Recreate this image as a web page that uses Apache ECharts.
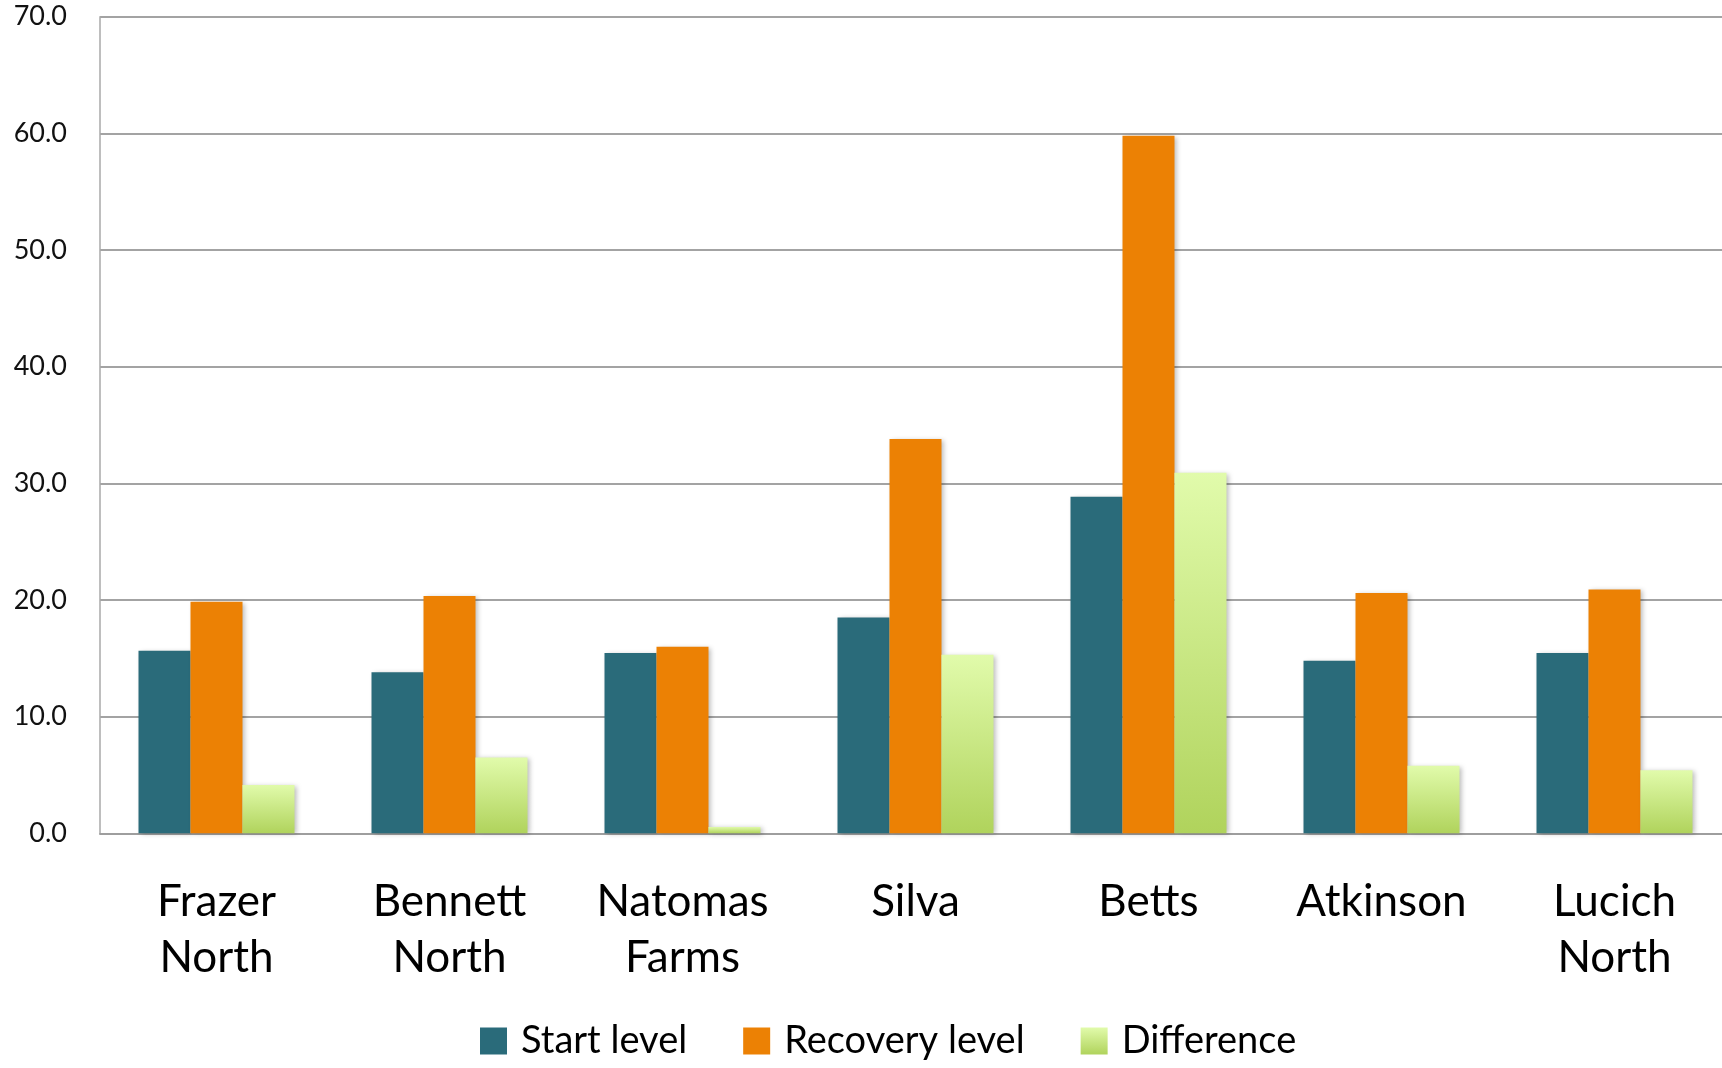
<!DOCTYPE html>
<html>
<head>
<meta charset="utf-8">
<script src="https://cdn.jsdelivr.net/npm/echarts@6/dist/echarts.min.js"></script>
<style>
html,body{margin:0;padding:0;background:#fff;overflow:hidden;width:1722px;height:1068px;}
#chart{width:1740px;height:1068px;}
</style>
</head>
<body>
<div id="chart"></div>
<script>
const categories = ['Frazer\nNorth', 'Bennett\nNorth', 'Natomas\nFarms', 'Silva', 'Betts', 'Atkinson', 'Lucich\nNorth'];
const startLevel = [15.65, 13.8, 15.45, 18.5, 28.85, 14.8, 15.45];
const recoveryLevel = [19.85, 20.35, 16.0, 33.8, 59.8, 20.6, 20.9];
const difference = [4.15, 6.5, 0.55, 15.3, 30.9, 5.8, 5.4];
const seriesNames = ['Start level', 'Recovery level', 'Difference'];
const yTicks = { min: 0, max: 70, interval: 10 };

const FONT = 'Lato, "Open Sans", sans-serif';
const teal = '#2a6b7a';
const orange = '#ec8104';
const greenGrad = new echarts.graphic.LinearGradient(0, 0, 0, 1, [
  { offset: 0, color: '#e1fbab' },
  { offset: 1, color: '#b0d35c' }
]);
const shadow = { shadowBlur: 5, shadowColor: 'rgba(0,0,0,0.28)', shadowOffsetX: 2, shadowOffsetY: 1 };

const chart = echarts.init(document.getElementById('chart'), null, { renderer: 'canvas' });
chart.setOption({
  animation: false,
  backgroundColor: '#ffffff',
  grid: { left: 100, top: 16.7, width: 1631, height: 816.6, containLabel: false },
  legend: {
    left: 480,
    top: 1022,
    padding: 0,
    itemWidth: 27,
    itemHeight: 27,
    itemGap: 56,
    icon: 'rect',
    textStyle: { fontFamily: FONT, fontSize: 38, color: '#000', padding: [0, 0, 0, 9] },
    data: seriesNames
  },
  xAxis: {
    type: 'category',
    data: categories,
    axisLine: { lineStyle: { color: '#9e9e9e', width: 2 } },
    axisTick: { show: false },
    axisLabel: {
      fontFamily: FONT, fontSize: 44, color: '#000', lineHeight: 56, margin: 41, interval: 0
    },
    splitLine: { show: false }
  },
  yAxis: {
    type: 'value',
    min: yTicks.min, max: yTicks.max, interval: yTicks.interval,
    axisLine: { show: true, lineStyle: { color: '#a8a8a8', width: 1.5 } },
    axisTick: { show: false },
    axisLabel: {
      fontFamily: FONT, fontSize: 27, color: '#111', margin: 33,
      formatter: v => v.toFixed(1)
    },
    splitLine: { lineStyle: { color: '#a3a3a3', width: 2 } }
  },
  series: [
    { name: seriesNames[0], type: 'bar', data: startLevel, barWidth: 52, barGap: '0%',
      itemStyle: Object.assign({ color: teal }, shadow) },
    { name: seriesNames[1], type: 'bar', data: recoveryLevel, barWidth: 52, barGap: '0%',
      itemStyle: Object.assign({ color: orange }, shadow) },
    { name: seriesNames[2], type: 'bar', data: difference, barWidth: 52, barGap: '0%',
      itemStyle: Object.assign({ color: greenGrad }, shadow) }
  ]
});
</script>
</body>
</html>
